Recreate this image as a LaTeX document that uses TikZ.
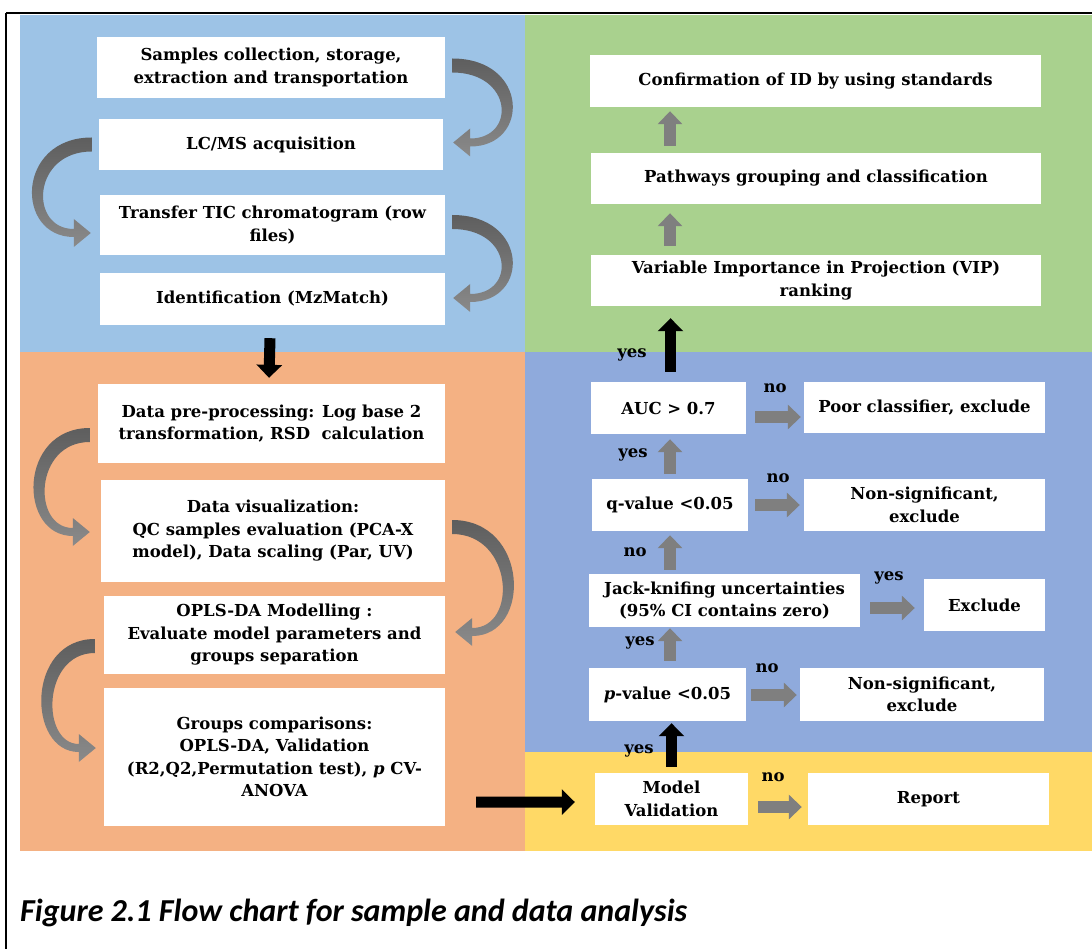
\documentclass[tikz,border=0pt]{standalone}
\usepackage{fontspec}
\setmainfont{DejaVu Serif}
\newfontfamily\capfont{Carlito}
\usetikzlibrary{arrows.meta,calc}
\definecolor{pblue}{HTML}{9DC3E6}
\definecolor{pgreen}{HTML}{A9D18E}
\definecolor{porange}{HTML}{F4B183}
\definecolor{pviolet}{HTML}{8FAADC}
\definecolor{pyellow}{HTML}{FFD966}
\definecolor{arrgray}{HTML}{7F7F7F}
\definecolor{curvedark}{HTML}{5E5E5E}
\definecolor{curvelight}{HTML}{8A8A8A}
% tapered curved block arrow: #1 start (centre of band), #2 tip, #3 bulge, #4 side (1 right, -1 left)
\newcommand\curvedarr[4]{%
  \coordinate (cS) at #1; \coordinate (cE) at #2;
  \shade[curveshade] ($(cS)+(0,-7)$)
    .. controls ($(cS)+({#4*(#3+8)},-7)$) and ($(cE)+({#4*(#3+8)},4)$) .. ($(cE)+({#4*17},4)$)
    -- ($(cE)+({#4*17},14)$) -- (cE) -- ($(cE)+({#4*17},-14)$) -- ($(cE)+({#4*17},-4)$)
    .. controls ($(cE)+({#4*(#3-6)},-4)$) and ($(cS)+({#4*(#3-8)},7)$) .. ($(cS)+(0,7)$) -- cycle;}
\begin{document}
\begin{tikzpicture}[x=1pt,y=-1pt,
  box/.style={fill=white, draw=none, align=center, inner sep=2pt,
    font=\fontsize{16.5}{22.5}\selectfont\bfseries},
  lbl/.style={font=\fontsize{16.5}{19}\selectfont\bfseries, inner sep=0pt},
  garrow/.style={draw=arrgray, line width=12pt, -{Triangle[length=13pt,width=24pt]}},
  barrow/.style={draw=black, line width=11pt, -{Triangle[length=13pt,width=25pt]}},
  curveshade/.style={top color=curvedark, bottom color=curvelight, draw=none},
  frame/.style={draw=black, line width=1.5pt}
]
\useasboundingbox (0,0) rectangle (1092,949);
% panels
\fill[pblue] (20,15) rectangle (525,352);
\fill[pgreen] (525,15) rectangle (1092,352);
\fill[porange] (20,352) rectangle (525,851);
\fill[pviolet] (525,352) rectangle (1092,752);
\fill[pyellow] (525,752) rectangle (1092,851);
% frame
\draw[frame] (6,13) -- (1092,13);
\draw[frame] (6,13) -- (6,949);

% left boxes
\node[box, minimum width=348pt, minimum height=61pt] (b1) at (271,67.5) {Samples collection, storage,\\extraction and transportation};
\node[box, minimum width=344pt, minimum height=51pt] (b2) at (271,144.5) {LC/MS acquisition};
\node[box, minimum width=345pt, minimum height=60pt] (b3) at (272.5,225) {Transfer TIC chromatogram (row\\files)};
\node[box, minimum width=345pt, minimum height=52pt] (b4) at (272.5,299) {Identification (MzMatch)};
\node[box, minimum width=347pt, minimum height=79pt] (b5) at (271.5,423.5) {Data pre-processing: Log base 2\\transformation, RSD\ \ calculation};
\node[box, minimum width=344pt, minimum height=102pt] (b6) at (273,531) {Data visualization:\\QC samples evaluation (PCA-X\\model), Data scaling (Par, UV)};
\node[box, minimum width=341pt, minimum height=78pt] (b7) at (274.5,635) {OPLS-DA Modelling :\\Evaluate model parameters and\\groups separation};
\node[box, minimum width=341pt, minimum height=138pt] (b8) at (274.5,757) {Groups comparisons:\\OPLS-DA, Validation\\(R2,Q2,Permutation test), \textit{p} CV-\\ANOVA};

% right boxes
\node[box, minimum width=451pt, minimum height=52pt] (g1) at (815.5,81) {Confirmation of ID by using standards};
\node[box, minimum width=450pt, minimum height=51pt] (g2) at (816,178.5) {Pathways grouping and classification};
\node[box, minimum width=450pt, minimum height=51pt] (g3) at (816,280.5) {Variable Importance in Projection (VIP)\\ranking};
\node[box, minimum width=155pt, minimum height=52pt] (auc) at (668.5,408) {AUC > 0.7};
\node[box, minimum width=241pt, minimum height=51pt] (poor) at (924.5,407.5) {Poor classifier, exclude};
\node[box, minimum width=156pt, minimum height=52pt] (q) at (670,505) {q-value <0.05};
\node[box, minimum width=241pt, minimum height=52pt] (ns1) at (924.5,505) {Non-significant,\\exclude};
\node[box, minimum width=271pt, minimum height=53pt] (jk) at (724.5,600.5) {Jack-knifing uncertainties\\(95\% CI contains zero)};
\node[box, minimum width=121pt, minimum height=52pt] (ex) at (984.5,605) {Exclude};
\node[box, minimum width=157pt, minimum height=53pt] (p) at (667.5,694.5) {\textit{p}-value <0.05};
\node[box, minimum width=244pt, minimum height=53pt] (ns2) at (922,694.5) {Non-significant,\\exclude};
\node[box, minimum width=153pt, minimum height=52pt] (mv) at (671.5,799) {Model\\Validation};
\node[box, minimum width=241pt, minimum height=52pt] (rep) at (928.5,799) {Report};

% curved arrows (left column)
\curvedarr{($(b1.east)+(7,-2)$)}{($(b2.east)+(10,-2)$)}{69}{1}
\curvedarr{($(b2.west)+(-7,0)$)}{($(b3.west)+(-9,8)$)}{68}{-1}
\curvedarr{($(b3.east)+(7,-3)$)}{($(b4.east)+(8,-1)$)}{69}{1}
\curvedarr{($(b5.west)+(-8,11.5)$)}{($(b6.west)+(-11,1)$)}{64}{-1}
\curvedarr{($(b6.east)+(7,-4)$)}{($(b7.east)+(10,-3)$)}{69}{1}
\curvedarr{($(b7.west)+(-9,11)$)}{($(b8.west)+(-8,-9)$)}{61}{-1}

% black arrows
\draw[barrow] ($(b4.south)+(-2.5,13)$) -- ($(b5.north)+(-2.5,-6)$);
\draw[barrow] ($(b8.south east)+(31,-24)$) -- ($(mv.west)+(-20,3)$);
\draw[barrow, shorten <=6pt, shorten >=2pt] (mv.north) -- (mv.north |- p.south);
\draw[barrow, shorten <=10pt, shorten >=12pt] ($(auc.north)+(2,0)$) -- ($(auc.north |- g3.south)+(2,0)$);

% gray up arrows
\coordinate (ax) at (670,0);
\draw[garrow, shorten <=9pt, shorten >=9pt] (ax |- g3.north) -- (ax |- g2.south);
\draw[garrow, shorten <=7pt, shorten >=4pt] (ax |- g2.north) -- (ax |- g1.south);
\draw[garrow, shorten <=5pt, shorten >=5pt] (ax |- q.north) -- (ax |- auc.south);
\draw[garrow, shorten <=4pt, shorten >=4pt] (ax |- jk.north) -- (ax |- q.south);
\draw[garrow, shorten <=7pt, shorten >=1pt] (ax |- p.north) -- (ax |- jk.south);

% gray right arrows
\draw[garrow] ([shift={(9,9)}]auc.east) -- ([shift={(-3,9)}]auc.east -| poor.west);
\draw[garrow] ([shift={(7,0)}]q.east) -- ([shift={(-4,0)}]q.east -| ns1.west);
\draw[garrow] ([shift={(10,7.5)}]jk.east) -- ([shift={(-9,7.5)}]jk.east -| ex.west);
\draw[garrow] ([shift={(5,0.5)}]p.east) -- ([shift={(-3,0.5)}]p.east -| ns2.west);
\draw[garrow] ([shift={(10,8)}]mv.east) -- ([shift={(-6,8)}]mv.east -| rep.west);

% labels
\node[lbl] (y1) at (632,355) {yes};
\node[lbl] (n1) at (775,388) {no};
\node[lbl] (y2) at (633,455) {yes};
\node[lbl] (n2) at (778,478) {no};
\node[lbl] (n3) at (635,552) {no};
\node[lbl] (y3) at (889,578) {yes};
\node[lbl] (y4) at (640,643) {yes};
\node[lbl] (n4) at (767,668) {no};
\node[lbl] (y5) at (639,751) {yes};
\node[lbl] (n5) at (773,777) {no};

% caption
\node[anchor=west, inner sep=0pt, font={\capfont\fontsize{32}{36}\selectfont\bfseries\itshape}] (cap) at (20,913) {Figure 2.1 Flow chart for sample and data analysis};
\end{tikzpicture}
\end{document}
